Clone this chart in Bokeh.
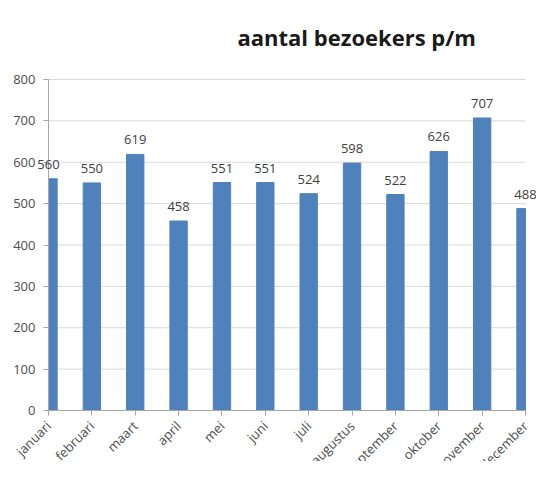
import math
import numpy as np
from bokeh.plotting import figure
from bokeh.models import ColumnDataSource, LabelSet, Range1d, FixedTicker
from bokeh.embed import file_html
from bokeh.resources import INLINE
from bokeh.core.properties import value

months = ["januari", "februari", "maart", "april", "mei", "juni", "juli",
          "augustus", "september", "oktober", "november", "december"]
visitors = [560, 550, 619, 458, 551, 551, 524, 598, 522, 626, 707, 488]
y_ticks = [0, 100, 200, 300, 400, 500, 600, 700, 800]
title_text = "aantal bezoekers p/m"

FONT = "Open Sans"
BAR = "#4F81BD"
AXIS = "#A6A6A6"
GRID = "#D9D9D9"
TXT = "#4D4D4D"
BAR_W = 0.4

# canvas and pixel layout (the frame covers the whole canvas; axes sit inside it)
W, H = 536, 461
AX_X, LAST_X = 48, 525     # pixel x of first / last category centre
TOP_Y, ZERO_Y = 79, 410    # pixel y of the top gridline / zero line
TITLE_X, TITLE_Y = 237, 36

n = len(months)
y_top = max(y_ticks)
ux = (n - 1) / (LAST_X - AX_X)          # data units per pixel
uy = y_top / (ZERO_Y - TOP_Y)
x_start, x_end = -AX_X * ux, (n - 1) + (W - LAST_X) * ux
y_start, y_end = -(H - ZERO_Y) * uy, y_top + TOP_Y * uy

xs = np.arange(n)
# bars end at the plot area, which runs from the first to the last category centre
left = np.clip(xs - BAR_W / 2, 0, n - 1)
right = np.clip(xs + BAR_W / 2, 0, n - 1)
src = ColumnDataSource(dict(x=xs, y=visitors, left=left, right=right,
                            bottom=[0] * n, lab=[str(v) for v in visitors]))

p = figure(width=W, height=H, output_backend="svg", toolbar_location=None,
           x_range=Range1d(x_start, x_end), y_range=Range1d(y_start, y_end),
           min_border_left=0, min_border_right=0, min_border_top=0,
           min_border_bottom=0)
p.outline_line_color = None
p.background_fill_color = "white"
p.border_fill_color = "white"
p.xgrid.grid_line_color = None
p.ygrid.grid_line_color = None

# title
p.text(x=[x_start + TITLE_X * ux], y=[y_end - TITLE_Y * uy], text=[title_text],
       text_font=value(FONT), text_font_style="bold", text_font_size="22px",
       text_color="#1A1A1A", text_align="left", text_baseline="alphabetic")

# gridlines between first and last category
p.segment(x0=[0] * len(y_ticks), x1=[n - 1] * len(y_ticks), y0=y_ticks, y1=y_ticks,
          line_color=GRID, line_width=1)

p.quad(left="left", right="right", bottom="bottom", top="y", source=src,
       fill_color=BAR, line_color=BAR)

# axis lines
p.segment(x0=[0, 0], y0=[0, 0], x1=[0, n - 1], y1=[y_top, 0], line_color=AXIS,
          line_width=1)

# y axis at x = 0: ticks + labels
p.yaxis.fixed_location = 0
p.yaxis.ticker = FixedTicker(ticks=y_ticks)
p.yaxis.axis_line_color = None
p.yaxis.major_tick_line_color = AXIS
p.yaxis.major_tick_out = 5
p.yaxis.major_tick_in = 0
p.yaxis.minor_tick_line_color = None
p.yaxis.major_label_text_font = FONT
p.yaxis.major_label_text_font_size = "13px"
p.yaxis.major_label_text_color = TXT
p.yaxis.major_label_standoff = 8

# x axis at y = 0: ticks + rotated month names (cut at the bottom edge)
p.xaxis.fixed_location = 0
p.xaxis.ticker = FixedTicker(ticks=list(xs))
p.xaxis.major_label_overrides = {i: m for i, m in enumerate(months)}
p.xaxis.axis_line_color = None
p.xaxis.major_tick_line_color = AXIS
p.xaxis.major_tick_out = 5
p.xaxis.major_tick_in = 0
p.xaxis.minor_tick_line_color = None
p.xaxis.major_label_orientation = math.pi / 4
p.xaxis.major_label_text_font = FONT
p.xaxis.major_label_text_font_size = "13px"
p.xaxis.major_label_text_color = TXT
p.xaxis.major_label_standoff = 8

vals = LabelSet(x="x", y="y", text="lab", source=src, text_align="center",
                text_baseline="bottom", y_offset=10, text_font=value(FONT),
                text_font_size="13px", text_color="#404040")
p.add_layout(vals)

open("out.html", "w").write(file_html(p, INLINE))
